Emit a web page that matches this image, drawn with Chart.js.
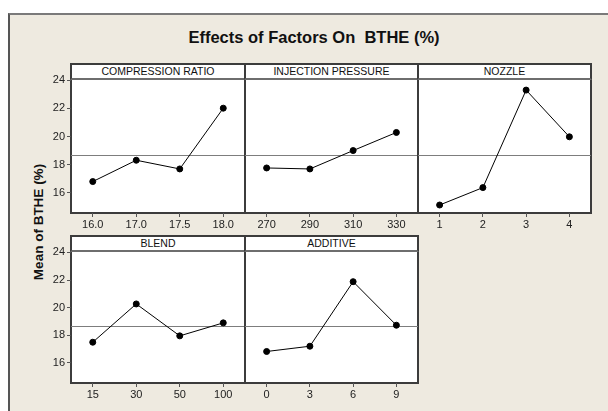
<!DOCTYPE html>
<html>
<head>
<meta charset="utf-8">
<script src="https://cdn.jsdelivr.net/npm/chart.js@4.4.1/dist/chart.umd.min.js"></script>
<style>
  body { margin: 0; background: #fff; }
  #page { position: relative; width: 608px; height: 411px; overflow: hidden; background: #fff; font-family: "Liberation Sans", Arial, sans-serif; }
  #frame { position: absolute; left: 8px; top: 13px; width: 640px; height: 440px; background: #EEEAE0; border-left: 2px solid #555; border-top: 2px solid #7a7a7a; }
  #title { position: absolute; left: 0; width: 628px; top: 28px; text-align: center; font-weight: bold; font-size: 16.5px; color: #111; }
  #ytitle { position: absolute; left: 38px; top: 222px; transform: translate(-50%, -50%) rotate(-90deg); white-space: nowrap; font-weight: bold; font-size: 13.5px; color: #111; }
  .box { position: absolute; box-sizing: border-box; background: #fff; border: 2px solid #3c3c3c; }
  .hdr { position: absolute; box-sizing: border-box; background: #fff; border: 2px solid #3c3c3c; border-bottom-color: #6e6e6e; text-align: center; font-size: 10.5px; color: #111; }
  canvas { position: absolute; }
</style>
</head>
<body>
<div id="page">
  <div id="frame"></div>
  <div id="title">Effects of Factors On&nbsp; BTHE (%)</div>
  <div id="ytitle">Mean of BTHE (%)</div>
</div>
<script>
// factors and their levels
const factors = ['COMPRESSION RATIO', 'INJECTION PRESSURE', 'NOZZLE', 'BLEND', 'ADDITIVE'];
const compressionLevels = ['16.0', '17.0', '17.5', '18.0'];
const pressureLevels = ['270', '290', '310', '330'];
const nozzleLevels = ['1', '2', '3', '4'];
const blendLevels = ['15', '30', '50', '100'];
const additiveLevels = ['0', '3', '6', '9'];

// mean of BTHE (%) at each level
const compressionMeans = [16.79, 18.31, 17.69, 22.02];
const pressureMeans = [17.76, 17.69, 19.0, 20.29];
const nozzleMeans = [15.12, 16.36, 23.31, 19.98];
const blendMeans = [17.5, 20.27, 17.96, 18.9];
const additiveMeans = [16.83, 17.21, 21.88, 18.73];

const grandMean = 18.65;
const yTicks = [16, 18, 20, 22, 24];

const levelLists = [compressionLevels, pressureLevels, nozzleLevels, blendLevels, additiveLevels];
const meanLists = [compressionMeans, pressureMeans, nozzleMeans, blendMeans, additiveMeans];

// panel grid
const colEdges = [71, 245, 418, 591];
const rows = [
  { hdrTop: 64, top: 79, bottom: 213 },
  { hdrTop: 236, top: 251, bottom: 383 }
];
const yMin = 14.55, yMax = 24.1;
const leftAxis = 46, bottomAxis = 24, pad = 14;

const page = document.getElementById('page');

const meanLine = {
  id: 'meanLine',
  beforeDatasetsDraw(chart) {
    const { ctx, chartArea, scales } = chart;
    const y = Math.round(scales.y.getPixelForValue(grandMean)) + 0.5;
    ctx.save();
    ctx.strokeStyle = '#7d7d7d';
    ctx.lineWidth = 1;
    ctx.beginPath();
    ctx.moveTo(chartArea.left, y);
    ctx.lineTo(chartArea.right, y);
    ctx.stroke();
    ctx.restore();
  }
};

factors.forEach((name, i) => {
  const col = i % 3;
  const row = rows[Math.floor(i / 3)];
  const x0 = colEdges[col], x1 = colEdges[col + 1];

  const box = document.createElement('div');
  box.className = 'box';
  Object.assign(box.style, {
    left: (x0 - 1) + 'px', top: (row.hdrTop - 1) + 'px',
    width: (x1 - x0 + 2) + 'px', height: (row.bottom - row.hdrTop + 2) + 'px'
  });
  page.appendChild(box);

  const hdr = document.createElement('div');
  hdr.className = 'hdr';
  hdr.textContent = name;
  const hh = row.top - row.hdrTop + 2;
  Object.assign(hdr.style, {
    left: (x0 - 1) + 'px', top: (row.hdrTop - 1) + 'px',
    width: (x1 - x0 + 2) + 'px', height: hh + 'px', lineHeight: (hh - 4) + 'px'
  });
  page.appendChild(hdr);

  const extraLeft = col === 0 ? leftAxis : 0;
  const canvas = document.createElement('canvas');
  const w = x1 - x0 + extraLeft + 2 * pad;
  const h = row.bottom - row.top + bottomAxis + pad;
  canvas.width = w; canvas.height = h;
  canvas.style.left = (x0 - extraLeft - pad) + 'px';
  canvas.style.top = (row.top - pad) + 'px';
  page.appendChild(canvas);

  new Chart(canvas, {
    type: 'line',
    data: {
      labels: levelLists[i],
      datasets: [{
        data: meanLists[i],
        borderColor: '#000',
        backgroundColor: '#000',
        borderWidth: 1,
        pointRadius: 3,
        pointBackgroundColor: '#000',
        tension: 0
      }]
    },
    options: {
      responsive: false,
      animation: false,
      layout: { padding: { top: pad, right: pad, left: pad, bottom: 0 } },
      plugins: { legend: { display: false }, tooltip: { enabled: false } },
      scales: {
        x: {
          type: 'category',
          offset: true,
          afterFit: s => { s.height = bottomAxis; },
          grid: { display: true, drawOnChartArea: false, drawTicks: true, tickLength: 4, color: '#555', offset: false },
          border: { display: false },
          ticks: { color: '#222', padding: 1, maxRotation: 0, font: { family: 'Liberation Sans', size: 11 } }
        },
        y: {
          display: col === 0,
          min: yMin, max: yMax,
          afterFit: s => { s.width = extraLeft; },
          afterBuildTicks: s => { s.ticks = yTicks.map(v => ({ value: v })); },
          grid: { display: true, drawOnChartArea: false, drawTicks: true, tickLength: 4, color: '#555' },
          border: { display: false },
          ticks: { color: '#222', padding: 2, font: { family: 'Liberation Sans', size: 11 } }
        }
      }
    },
    plugins: [meanLine]
  });
});
</script>
</body>
</html>
